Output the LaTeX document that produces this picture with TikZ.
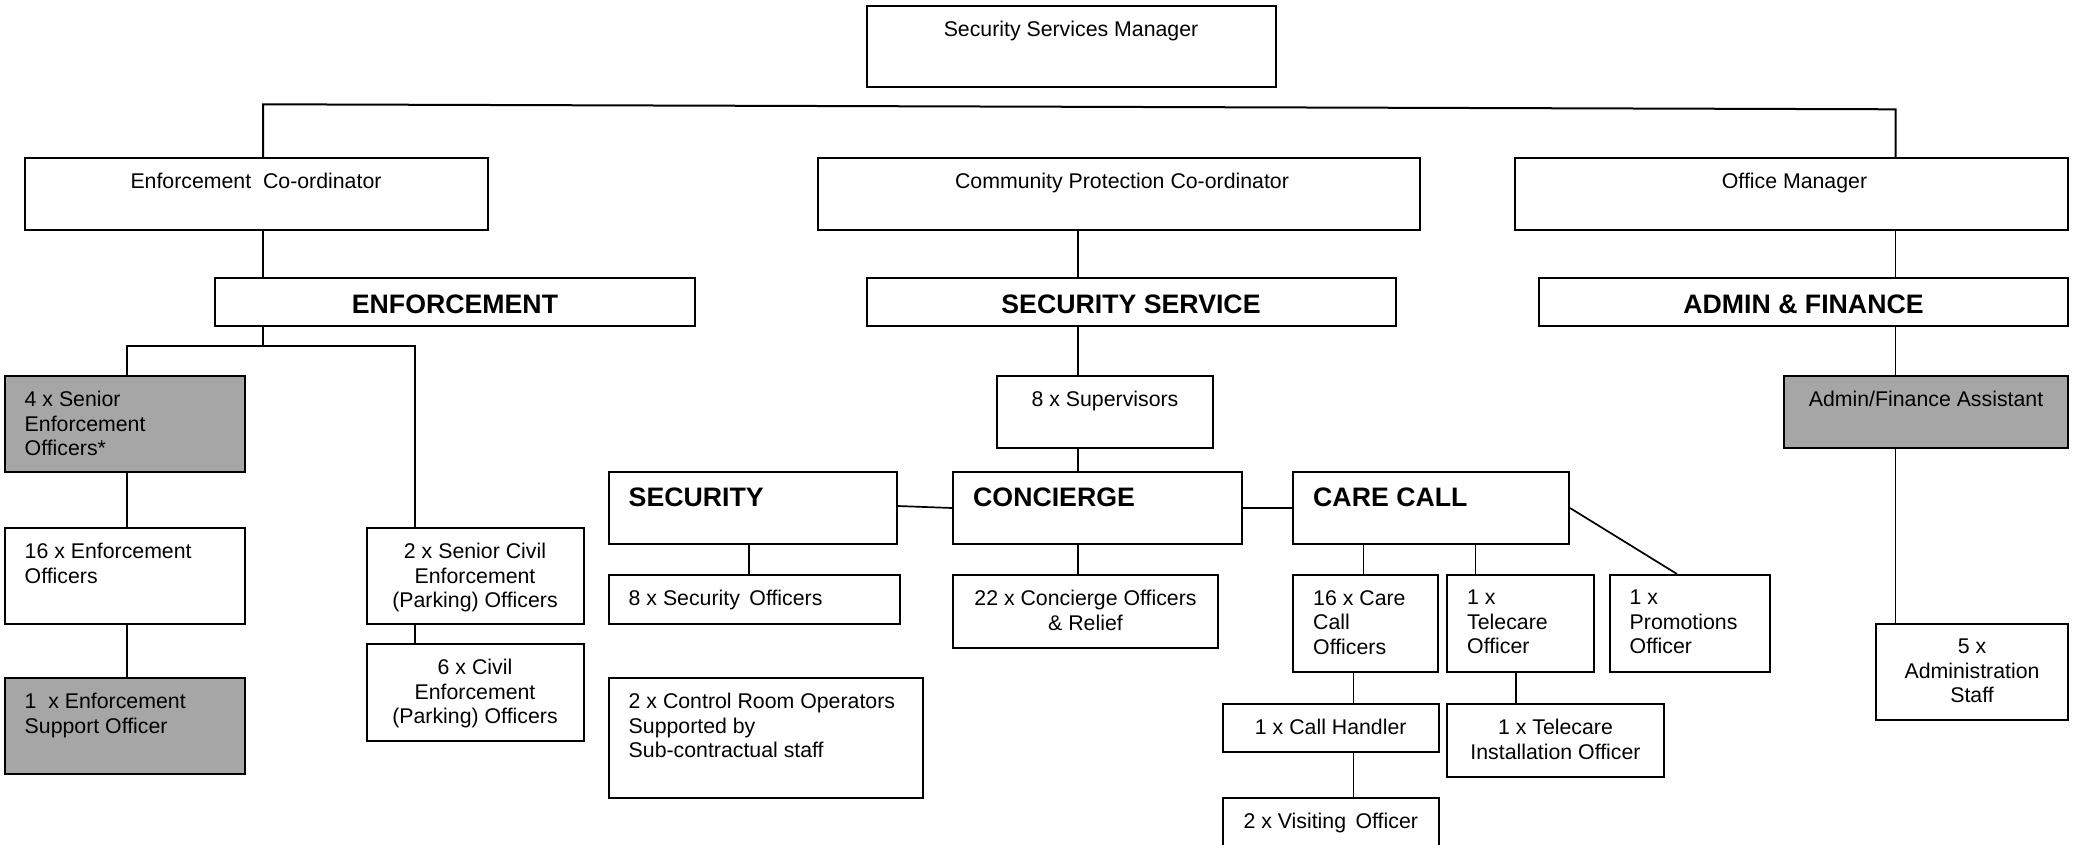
\documentclass[tikz,border=0pt]{standalone}
\usepackage{fontspec}
\setmainfont{Liberation Sans}
\usetikzlibrary{calc}
\newcommand{\obox}[6][]{%
  \node[box,#1,minimum width={(#5)-(#3)},minimum height={(#6)-(#4)}] (#2) at ({((#3)+(#5))/2},{((#4)+(#6))/2}) {};}
\begin{document}
\begin{tikzpicture}[x=1pt,y=-1pt,
  box/.style={draw, line width=2pt, rectangle, inner sep=0pt, fill=white},
  grey/.style={fill=black!35},
  conn/.style={line width=1.7pt},
  txt/.style={inner sep=0pt, font=\fontsize{21.3}{24.5}\selectfont},
  head/.style={inner sep=0pt, font=\fontsize{26.7}{30}\selectfont\bfseries},
]
\useasboundingbox[fill=white] (0,0) rectangle (2075,844);
\clip (0,0) rectangle (2075,844);

% boxes
\obox{ssm}{866.5}{6}{1275.5}{87}
\obox{ec}{24.5}{158}{487.5}{230}
\obox{cpc}{818}{158}{1420}{230}
\obox{om}{1515}{158}{2068}{230}
\obox{enf}{215}{278}{695}{326}
\obox{ss}{866.5}{278}{1395.5}{326}
\obox{af}{1539}{278}{2068}{326}
\obox[grey]{seo}{4.5}{376}{245}{472}
\obox{eo}{4.5}{528}{245}{624}
\obox[grey]{eso}{4.5}{678}{245}{774}
\obox{scp}{366.5}{528}{583.5}{624}
\obox{cp}{366.5}{644}{583.5}{741}
\obox{sup}{997}{376}{1213}{448}
\obox{sec}{608.5}{472}{897}{544}
\obox{con}{953}{472}{1242}{544}
\obox{cc}{1293}{472}{1569}{544}
\obox{so}{608.5}{575}{900}{624}
\obox{ccf}{953}{575}{1218}{648}
\obox{cro}{608.5}{678}{923}{798}
\obox{cco}{1293}{575}{1438}{672}
\obox{to}{1447}{575}{1594}{672}
\obox{po}{1609.5}{575}{1770}{672}
\obox{ch}{1222.5}{704}{1439}{752}
\obox{vo}{1222.5}{798}{1439}{870}
\obox{tio}{1447}{704}{1664}{777}
\obox[grey]{afa}{1784}{376}{2068}{448}
\obox{ast}{1876}{624}{2068}{720}

% texts
\node[txt,anchor=north] (ssm-t) at ($(ssm.north)+(0,16)$) {Security Services Manager};
\node[txt,anchor=north] (ec-t) at ($(ec.north)+(0,16)$) {Enforcement\ \ Co-ordinator};
\node[txt,anchor=north] (cpc-t) at ($(cpc.north)+(3,16)$) {Community Protection Co-ordinator};
\node[txt,anchor=north] (om-t) at ($(om.north)+(3,16)$) {Office Manager};
\node[head,anchor=base] (enf-t) at ($(enf.north)+(0,36)$) {ENFORCEMENT};
\node[head,anchor=base] (ss-t) at ($(ss.north)+(0,36)$) {SECURITY SERVICE};
\node[head,anchor=base] (af-t) at ($(af.north)+(0,36)$) {ADMIN \& FINANCE};
\node[txt,anchor=north west,align=left] (seo-t) at ($(seo.north west)+(21,16)$) {4 x Senior\\Enforcement\\Officers*};
\node[txt,anchor=north west,align=left] (eo-t) at ($(eo.north west)+(21,16)$) {16 x Enforcement\\Officers};
\node[txt,anchor=north west,align=left] (eso-t) at ($(eso.north west)+(21,16)$) {1\ \ x Enforcement\\Support Officer};
\node[txt,anchor=north,align=center] (scp-t) at ($(scp.north)+(0,16)$) {2 x Senior Civil\\Enforcement\\(Parking) Officers};
\node[txt,anchor=north,align=center] (cp-t) at ($(cp.north)+(0,16)$) {6 x Civil\\Enforcement\\(Parking) Officers};
\node[txt,anchor=north] (sup-t) at ($(sup.north)+(0,16)$) {8 x Supervisors};
\node[head,anchor=base west] (sec-t) at ($(sec.north west)+(21,35)$) {SECURITY};
\node[head,anchor=base west] (con-t) at ($(con.north west)+(21,35)$) {CONCIERGE};
\node[head,anchor=base west] (cc-t) at ($(cc.north west)+(21,35)$) {CARE CALL};
\node[txt,anchor=north west] (so-t) at ($(so.north west)+(21,16)$) {8 x Security\,\ Officers};
\node[txt,anchor=north,align=center] (ccf-t) at ($(ccf.north)+(0,16)$) {22 x Concierge Officers\\\& Relief};
\node[txt,anchor=north west,align=left] (cro-t) at ($(cro.north west)+(21,16)$) {2 x Control Room Operators\\Supported by\\Sub-contractual staff};
\node[txt,anchor=north west,align=left] (cco-t) at ($(cco.north west)+(21,16)$) {16 x Care\\Call\\Officers};
\node[txt,anchor=north west,align=left] (to-t) at ($(to.north west)+(21,16)$) {1 x\\Telecare\\Officer};
\node[txt,anchor=north west,align=left] (po-t) at ($(po.north west)+(21,16)$) {1 x\\Promotions\\Officer};
\node[txt,anchor=north] (ch-t) at ($(ch.north)+(0,16)$) {1 x Call Handler};
\node[txt,anchor=north] (vo-t) at ($(vo.north)+(0,15.5)$) {2 x Visiting\,\ Officer};
\node[txt,anchor=north,align=center] (tio-t) at ($(tio.north)+(0,16)$) {1 x Telecare\\Installation Officer};
\node[txt,anchor=north] (afa-t) at ($(afa.north)+(0,16)$) {Admin/Finance Assistant};
\node[txt,anchor=north,align=center] (ast-t) at ($(ast.north)+(0,16)$) {5 x\\Administration\\Staff};

% connector guide coordinates
\coordinate (tl) at (263,104.3);
\coordinate (tr) at (1895.5,109.3);
\coordinate (eb) at (263,346);
\coordinate (ebl) at (127,346);
\coordinate (ebr) at (415,346);
\coordinate (mx) at (1077.7,0);
\coordinate (sx) at (749,0);
\coordinate (c1) at (1363.5,0);
\coordinate (c2) at (1475.5,0);
\coordinate (c3) at (1677,0);
\coordinate (c4) at (1353.5,0);
\coordinate (c5) at (1516,0);
\coordinate (ax) at (1895.5,0);

% connectors
\draw[conn,line width=2pt] (ec.north -| tl) -- (tl) -- (tr) -- (om.north -| tr);
\draw[conn] (ec.south -| tl) -- (enf.north -| tl);
\draw[conn] (enf.south -| eb) -- (eb);
\draw[conn] (seo.north -| ebl) |- (ebr) -- (scp.north -| ebr);
\draw[conn] (seo.south -| ebl) -- (eo.north -| ebl);
\draw[conn] (eo.south -| ebl) -- (eso.north -| ebl);
\draw[conn] (scp.south -| ebr) -- (cp.north -| ebr);
\draw[conn] (cpc.south -| mx) -- (ss.north -| mx);
\draw[conn] (ss.south -| mx) -- (sup.north -| mx);
\draw[conn] (sup.south -| mx) -- (con.north -| mx);
\draw[conn] (con.south -| mx) -- (ccf.north -| mx);
\draw[conn] (sec.south -| sx) -- (so.north -| sx);
\draw[conn] ($(sec.east)+(0,-2)$) -- (con.west);
\draw[conn] (con.east) -- (cc.west);
\draw[conn] (cc.south -| c1) -- (cco.north -| c1);
\draw[conn] (cc.south -| c2) -- (to.north -| c2);
\draw[conn] (cc.east) -- (po.north -| c3);
\draw[conn] (cco.south -| c4) -- (ch.north -| c4);
\draw[conn] (ch.south -| c4) -- (vo.north -| c4);
\draw[conn] (to.south -| c5) -- (tio.north -| c5);
\draw[conn] (om.south -| ax) -- (af.north -| ax);
\draw[conn] (af.south -| ax) -- (afa.north -| ax);
\draw[conn] (afa.south -| ax) -- (ast.north -| ax);
\end{tikzpicture}
\end{document}
